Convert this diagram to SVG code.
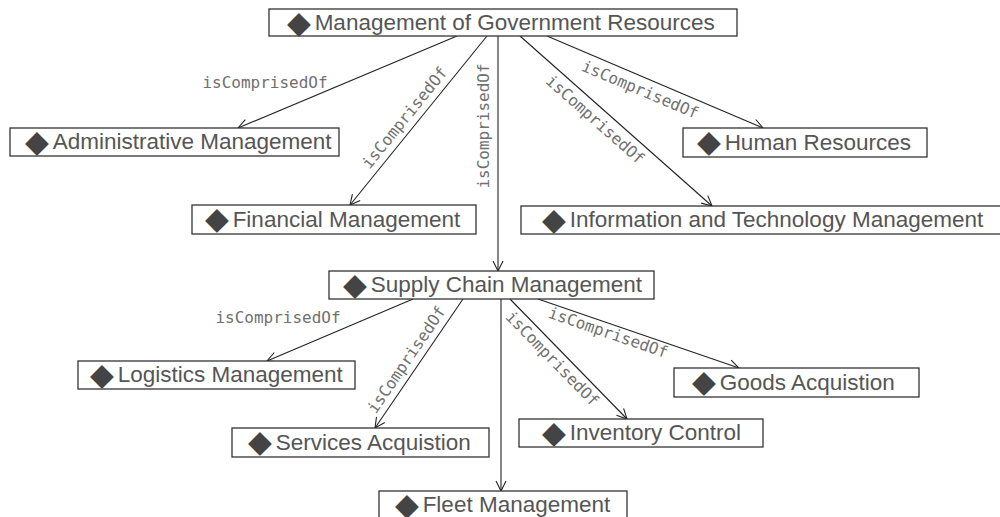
<svg xmlns="http://www.w3.org/2000/svg" width="1000" height="517" viewBox="0 0 1000 517">
<defs>
<style>
.box{fill:#fff;stroke:#333;stroke-width:1.3}
.t{font-family:"Liberation Sans",Arial,sans-serif;font-size:22.5px;fill:#555}
.d{font-family:"DejaVu Sans",sans-serif;font-size:31px;fill:#444}
.s{font-size:1px}
.e{stroke:#222;stroke-width:1.1;fill:none;marker-end:url(#arr)}
.l{font-family:"DejaVu Sans Mono",monospace;font-size:16px;fill:#707070;text-anchor:middle}
</style>
<marker id="arr" markerWidth="12" markerHeight="12" refX="11" refY="6" orient="auto" markerUnits="userSpaceOnUse">
<path d="M1,1 L11,6 L1,11" fill="none" stroke="#222" stroke-width="1.1"/>
</marker>
</defs>
<rect width="1000" height="517" fill="#fff"/>
<g id="connectors">
<line class="e" x1="457" y1="36" x2="238" y2="128"/>
<line class="e" x1="487" y1="36" x2="350" y2="205"/>
<line class="e" x1="498" y1="36" x2="498" y2="271"/>
<line class="e" x1="520" y1="36" x2="712" y2="206"/>
<line class="e" x1="547" y1="36" x2="763" y2="128"/>
<line class="e" x1="413" y1="299" x2="267" y2="361"/>
<line class="e" x1="463" y1="299" x2="375" y2="428"/>
<line class="e" x1="501" y1="299" x2="501" y2="491"/>
<line class="e" x1="510" y1="299" x2="627" y2="419"/>
<line class="e" x1="538" y1="299" x2="739" y2="368"/>
<text class="l" x="265" y="88">isComprisedOf</text>
<text class="l" transform="translate(405,118) rotate(-51)" y="5">isComprisedOf</text>
<text class="l" transform="translate(484,126) rotate(-90)" y="5">isComprisedOf</text>
<text class="l" transform="translate(595,120) rotate(41.5)" y="5">isComprisedOf</text>
<text class="l" transform="translate(640,90) rotate(23)" y="5">isComprisedOf</text>
<text class="l" x="278" y="323">isComprisedOf</text>
<text class="l" transform="translate(407,360) rotate(-55.7)" y="5">isComprisedOf</text>
<text class="l" transform="translate(552,359) rotate(45.7)" y="5">isComprisedOf</text>
<text class="l" transform="translate(608,333) rotate(19)" y="5">isComprisedOf</text>
</g>
<g id="n-mgr"><rect class="box" x="269" y="9" width="468" height="27"/><text class="t"><tspan class="d" x="287" y="32.5">◆</tspan><tspan class="s"> </tspan><tspan dx="3.5" y="30">Management of Government Resources</tspan></text></g>
<g id="n-admin"><rect class="box" x="10" y="128" width="329" height="28"/><text class="t"><tspan class="d" x="25" y="151.5">◆</tspan><tspan class="s"> </tspan><tspan dx="3.5" y="149">Administrative Management</tspan></text></g>
<g id="n-hr"><rect class="box" x="683" y="128" width="244" height="29"/><text class="t"><tspan class="d" x="697" y="152">◆</tspan><tspan class="s"> </tspan><tspan dx="3.5" y="149.5">Human Resources</tspan></text></g>
<g id="n-fin"><rect class="box" x="192" y="205" width="284" height="29"/><text class="t"><tspan class="d" x="205" y="229">◆</tspan><tspan class="s"> </tspan><tspan dx="3.5" y="226.5">Financial Management</tspan></text></g>
<g id="n-it"><rect class="box" x="521" y="206" width="490" height="28"/><text class="t"><tspan class="d" x="542" y="229.5">◆</tspan><tspan class="s"> </tspan><tspan dx="3.5" y="227">Information and Technology Management</tspan></text></g>
<g id="n-scm"><rect class="box" x="329" y="271" width="325" height="28"/><text class="t"><tspan class="d" x="343" y="294.5">◆</tspan><tspan class="s"> </tspan><tspan dx="3.5" y="292">Supply Chain Management</tspan></text></g>
<g id="n-log"><rect class="box" x="78" y="361" width="277" height="28"/><text class="t"><tspan class="d" x="90" y="384.5">◆</tspan><tspan class="s"> </tspan><tspan dx="3.5" y="382">Logistics Management</tspan></text></g>
<g id="n-goods"><rect class="box" x="674" y="368" width="245" height="29"/><text class="t"><tspan class="d" x="692" y="392">◆</tspan><tspan class="s"> </tspan><tspan dx="3.5" y="389.5">Goods Acquistion</tspan></text></g>
<g id="n-inv"><rect class="box" x="519" y="419" width="244" height="28"/><text class="t"><tspan class="d" x="542" y="442.5">◆</tspan><tspan class="s"> </tspan><tspan dx="3.5" y="440">Inventory Control</tspan></text></g>
<g id="n-svc"><rect class="box" x="232" y="428" width="257" height="29"/><text class="t"><tspan class="d" x="248" y="452">◆</tspan><tspan class="s"> </tspan><tspan dx="3.5" y="449.5">Services Acquistion</tspan></text></g>
<g id="n-fleet"><rect class="box" x="379" y="491" width="248" height="28"/><text class="t"><tspan class="d" x="395" y="514.5">◆</tspan><tspan class="s"> </tspan><tspan dx="3.5" y="512">Fleet Management</tspan></text></g>
</svg>
